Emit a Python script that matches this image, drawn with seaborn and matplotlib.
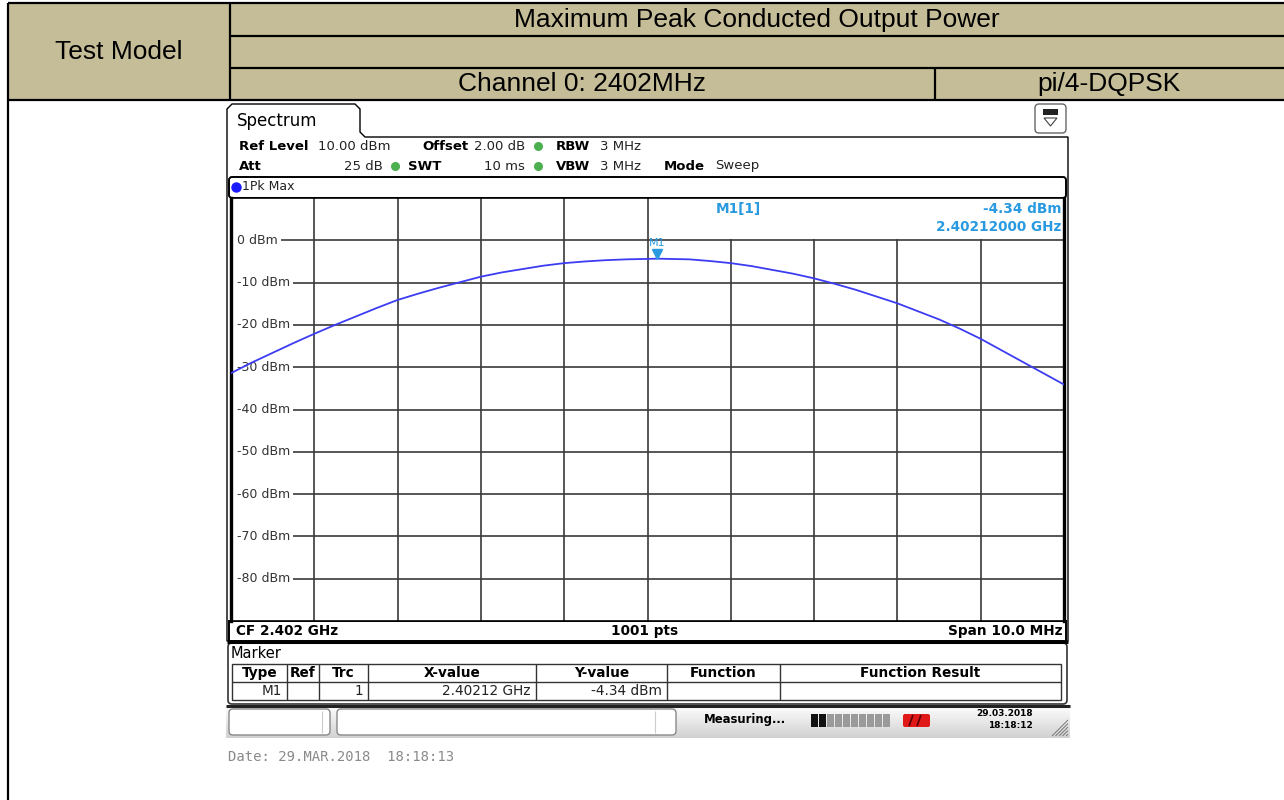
import numpy as np
import pandas as pd
import matplotlib
matplotlib.use("Agg")
import matplotlib.pyplot as plt
from matplotlib.patches import Rectangle, FancyBboxPatch, Polygon
import seaborn as sns

# --- cabecera de la tabla ---
TABLE_TITLE = "Maximum Peak Conducted Output Power"
TEST_MODEL = "Test Model"
CHANNEL = "Channel 0: 2402MHz"
MODULATION = "pi/4-DQPSK"

freq_ghz = [2.39700, 2.39725, 2.39750, 2.39775, 2.39800, 2.39825, 2.39850, 2.39875,
            2.39900, 2.39925, 2.39950, 2.39975, 2.40000, 2.40025, 2.40050, 2.40075,
            2.40100, 2.40125, 2.40150, 2.40175, 2.40200, 2.40212, 2.40225, 2.40250,
            2.40275, 2.40300, 2.40325, 2.40350, 2.40375, 2.40400, 2.40425, 2.40450,
            2.40475, 2.40500, 2.40525, 2.40550, 2.40575, 2.40600, 2.40625, 2.40650,
            2.40675, 2.40700]
level_dbm = [-31.4, -28.9, -26.6, -24.3, -22.1, -20.0, -18.0, -16.0,
             -14.1, -12.6, -11.2, -9.9, -8.6, -7.6, -6.8, -6.0,
             -5.4, -5.0, -4.7, -4.5, -4.4, -4.34, -4.4, -4.5,
             -4.9, -5.4, -6.1, -7.0, -7.9, -9.0, -10.3, -11.7,
             -13.3, -14.9, -16.8, -18.7, -20.9, -23.3, -26.0, -28.7,
             -31.4, -34.1]

marker_freq = 2.40212
marker_level = -4.34

grid_freq = [2.397, 2.398, 2.399, 2.400, 2.401, 2.402, 2.403, 2.404, 2.405, 2.406, 2.407]
grid_level = [10, 0, -10, -20, -30, -40, -50, -60, -70, -80, -90]
level_labels = [0, -10, -20, -30, -40, -50, -60, -70, -80]

# --- ajustes del analizador ---
hdr_row1 = [("Ref Level", "10.00 dBm"), ("Offset", "2.00 dB"), ("RBW", "3 MHz")]
hdr_row2 = [("Att", "25 dB"), ("SWT", "10 ms"), ("VBW", "3 MHz"), ("Mode", "Sweep")]

# --- tabla de marcadores ---
mk_cols = ["Type", "Ref", "Trc", "X-value", "Y-value", "Function", "Function Result"]
mk_row = ["M1", "", "1", "2.40212 GHz", "-4.34 dBm", "", ""]
mk_edges = [232, 287, 319, 368, 536, 667, 780, 1061]

STATUS = "Measuring..."
SCREEN_DATE = "29.03.2018"
SCREEN_TIME = "18:18:12"
FOOTER = "Date: 29.MAR.2018  18:18:13"

W, H = 1284, 800
TAN = "#c5bd97"
BLUE_TXT = "#2a9ae0"
TRACE = "#3c3cf2"
GRID_C = "#3a3a3a"

sns.set_style("white")
plt.rcParams["font.family"] = ["DejaVu Sans"]

fig = plt.figure(figsize=(W / 100, H / 100), dpi=100)
bg = fig.add_axes([0, 0, 1, 1])
bg.set_xlim(0, W)
bg.set_ylim(H, 0)
bg.axis("off")


def rect(x0, y0, x1, y1, fc="none", ec="black", lw=1.0, z=1, r=0):
    if r:
        p = FancyBboxPatch((x0, y0), x1 - x0, y1 - y0,
                           boxstyle=f"round,pad=0,rounding_size={r}",
                           fc=fc, ec=ec, lw=lw, zorder=z)
    else:
        p = Rectangle((x0, y0), x1 - x0, y1 - y0, fc=fc, ec=ec, lw=lw, zorder=z)
    bg.add_patch(p)


def line(xs, ys, lw=1.0, c="black", z=3):
    bg.plot(xs, ys, color=c, lw=lw, zorder=z, solid_capstyle="butt")


def txt(x, y, s, size=9, ha="left", va="center", weight="normal", color="black",
        family=None, z=6):
    kw = {}
    if family:
        kw["family"] = family
    bg.text(x, y, s, fontsize=size, ha=ha, va=va, fontweight=weight, color=color,
            zorder=z, **kw)


# ---------------- tabla del informe ----------------
rect(8, 3, W, 100, fc=TAN, ec="none", z=0)
line([8, W], [3, 3], lw=1.6)
line([230, W], [36, 36], lw=1.6)
line([230, W], [68, 68], lw=1.6)
line([8, W], [100, 100], lw=1.6)
line([8, 8], [3, H], lw=1.6)
line([230, 230], [3, 100], lw=1.6)
line([935, 935], [68, 100], lw=1.6)

tfam = ["Liberation Sans", "DejaVu Sans"]
txt(757, 20, TABLE_TITLE, size=19, ha="center", family=tfam)
txt(119, 52, TEST_MODEL, size=19, ha="center", family=tfam)
txt(582, 84, CHANNEL, size=19, ha="center", family=tfam)
txt(1109, 84, MODULATION, size=19, ha="center", family=tfam)

# ---------------- marco del analizador ----------------
bg.add_patch(Polygon([[227, 138], [227, 109], [232, 104], [355, 104], [360, 109],
                      [360, 132], [365, 137], [1068, 137], [1068, 641], [227, 641]],
                     closed=True, fc="white", ec="black", lw=1.0, zorder=1))
txt(237, 121, "Spectrum", size=12, weight="medium")

# icono arriba a la derecha
rect(1035, 104, 1066, 133, fc="white", ec="#666666", lw=1.0, z=2, r=4)
rect(1043, 109, 1058, 115, fc="#222222", ec="none", z=3)
bg.add_patch(Polygon([[1044, 118], [1057, 118], [1050.5, 126]], closed=True,
                     fc="white", ec="#444444", lw=0.8, zorder=3))

# filas de ajustes
hx1 = [(239, 318), (422, 474), (556, 600)]
for (lab, val), (xl, xv) in zip(hdr_row1, hx1):
    txt(xl, 146, lab, size=9.5, weight="bold")
    txt(xv, 146, val, size=9.5, color="#222222")
hx2 = [(239, 383), (408, 525), (556, 600), (664, 715)]
for i, ((lab, val), (xl, xv)) in enumerate(zip(hdr_row2, hx2)):
    txt(xl, 166, lab, size=9.5, weight="bold")
    if i < 2:
        txt(xv, 166, val, size=9.5, ha="right", color="#222222")
    else:
        txt(xv, 166, val, size=9.5, color="#222222")
for gx, gy in [(538, 146), (395, 166), (538, 166)]:
    bg.plot(gx, gy, marker="o", ms=5.5, color="#4caf50", mec="#4caf50", zorder=6)

# banda 1Pk Max
rect(229, 177, 1066, 198, fc="white", ec="black", lw=1.4, z=2, r=3)
bg.plot(236, 187, marker="o", ms=6.5, color="#1a1aff", zorder=6)
txt(242, 187, "1Pk Max", size=9, color="#222222")

# barra CF / Span
rect(229, 621, 1066, 641, fc="white", ec="black", lw=1.4, z=2)
line([227, 1068], [641.5, 641.5], lw=2.2)
txt(236, 631, "CF 2.402 GHz", size=9.8, weight="bold")
txt(645, 631, "1001 pts", size=9.8, weight="bold", ha="center")
txt(1062, 631, "Span 10.0 MHz", size=9.8, weight="bold", ha="right")

# ---------------- panel de marcadores ----------------
rect(228, 643, 1067, 704, fc="white", ec="#333333", lw=1.2, z=1, r=4)
txt(231, 653, "Marker", size=10.5)
rect(mk_edges[0], 664, mk_edges[-1], 700, fc="white", ec="#333333", lw=1.0, z=2)
line([mk_edges[0], mk_edges[-1]], [682, 682], lw=1.0, c="#333333")
for e in mk_edges[1:-1]:
    line([e, e], [664, 700], lw=1.0, c="#333333")
for i, name in enumerate(mk_cols):
    cx = (mk_edges[i] + mk_edges[i + 1]) / 2
    txt(cx, 673, name, size=9.8, weight="bold", ha="center")
    if mk_row[i]:
        txt(mk_edges[i + 1] - 5, 691, mk_row[i], size=9.8, ha="right", color="#222222")

# ---------------- barra de estado ----------------
grad = np.linspace(0.99, 0.82, 50)[:, None]
bg.imshow(grad, extent=[226, 1070, 738, 706], cmap="gray", vmin=0, vmax=1,
          aspect="auto", zorder=0)
line([226, 1070], [705.5, 705.5], lw=2.2, c="#222222")
rect(229, 709, 330, 735, fc="white", ec="#888888", lw=1.0, z=2, r=4)
rect(337, 709, 676, 735, fc="white", ec="#888888", lw=1.0, z=2, r=4)
line([322, 322], [711, 733], lw=0.8, c="#cccccc")
line([655, 655], [711, 733], lw=0.8, c="#cccccc")
txt(704, 720, STATUS, size=8.4, weight="bold")
seg_x = [811, 819, 827, 835, 843, 851, 859, 867, 875, 883]
for k, sx in enumerate(seg_x):
    rect(sx, 714, sx + 7, 727, fc="#111111" if k < 2 else "#9a9a9a", ec="none", z=3)
rect(903, 714, 930, 727, fc="#e01818", ec="none", z=3, r=2)
line([909, 913], [726, 715], lw=1.2, c="#5a0000", z=4)
line([917, 921], [726, 715], lw=1.2, c="#5a0000", z=4)
txt(1033, 714, SCREEN_DATE, size=6.5, weight="bold", ha="right")
txt(1033, 726, SCREEN_TIME, size=6.5, weight="bold", ha="right")
for k in range(5):
    line([1052 + 3.5 * k, 1068], [736, 720 + 3.5 * k], lw=0.7, c="#777777", z=4)

txt(228, 757, FOOTER, size=10, color="#8a8a8a", family="DejaVu Sans Mono")

# ---------------- rejilla y traza ----------------
ax = fig.add_axes([231 / W, 1 - 621 / H, 833 / W, 423 / H])
ax.set_zorder(2)
ax.set_facecolor("white")
for f in grid_freq[1:-1]:
    ax.axvline(f, color=GRID_C, lw=1.2, zorder=1)
for lv in grid_level[1:-1]:
    ax.axhline(lv, xmin=7 / 833, color=GRID_C, lw=1.2, zorder=1)

# caja blanca con la lectura del marcador
ax.add_patch(Rectangle((0.5025, (621 - 239) / 423), 0.4975, 1, transform=ax.transAxes,
                       fc="white", ec="none", zorder=2))
ax.text((738 - 231) / 833, (621 - 209) / 423, "M1[1]", transform=ax.transAxes,
        ha="center", va="center", fontsize=9.8, fontweight="bold", color=BLUE_TXT, zorder=3)
ax.text(0.997, (621 - 209) / 423, f"{marker_level:.2f} dBm", transform=ax.transAxes,
        ha="right", va="center", fontsize=9.8, fontweight="bold", color=BLUE_TXT, zorder=3)
ax.text(0.997, (621 - 227) / 423, f"{marker_freq:.8f} GHz", transform=ax.transAxes,
        ha="right", va="center", fontsize=9.8, fontweight="bold", color=BLUE_TXT, zorder=3)

for lv in level_labels:
    ax.text(6 / 833, lv, f"{lv} dBm", transform=ax.get_yaxis_transform(),
            ha="left", va="center", fontsize=9, color="#333333", zorder=3,
            bbox=dict(fc="white", ec="none", pad=2.2))

df = pd.DataFrame({"freq": freq_ghz, "level": level_dbm})
sns.lineplot(data=df, x="freq", y="level", ax=ax, color=TRACE, lw=1.3, zorder=5)

ax.plot(marker_freq, marker_level + 1.0, marker="v", ms=7, color=BLUE_TXT,
        ls="none", zorder=6)
ax.text(marker_freq, marker_level + 3.8, "M1", ha="center", va="center",
        fontsize=8, color=BLUE_TXT, zorder=6)

ax.set_xlim(grid_freq[0], grid_freq[-1])
ax.set_ylim(grid_level[-1], grid_level[0])
ax.set_xticks([])
ax.set_yticks([])
ax.set_xlabel("")
ax.set_ylabel("")
for side, sp in ax.spines.items():
    sp.set_visible(True)
    sp.set_color("black")
    sp.set_linewidth(2.4 if side in ("left", "right") else 1.2)

fig.savefig("out.png", dpi=100)
